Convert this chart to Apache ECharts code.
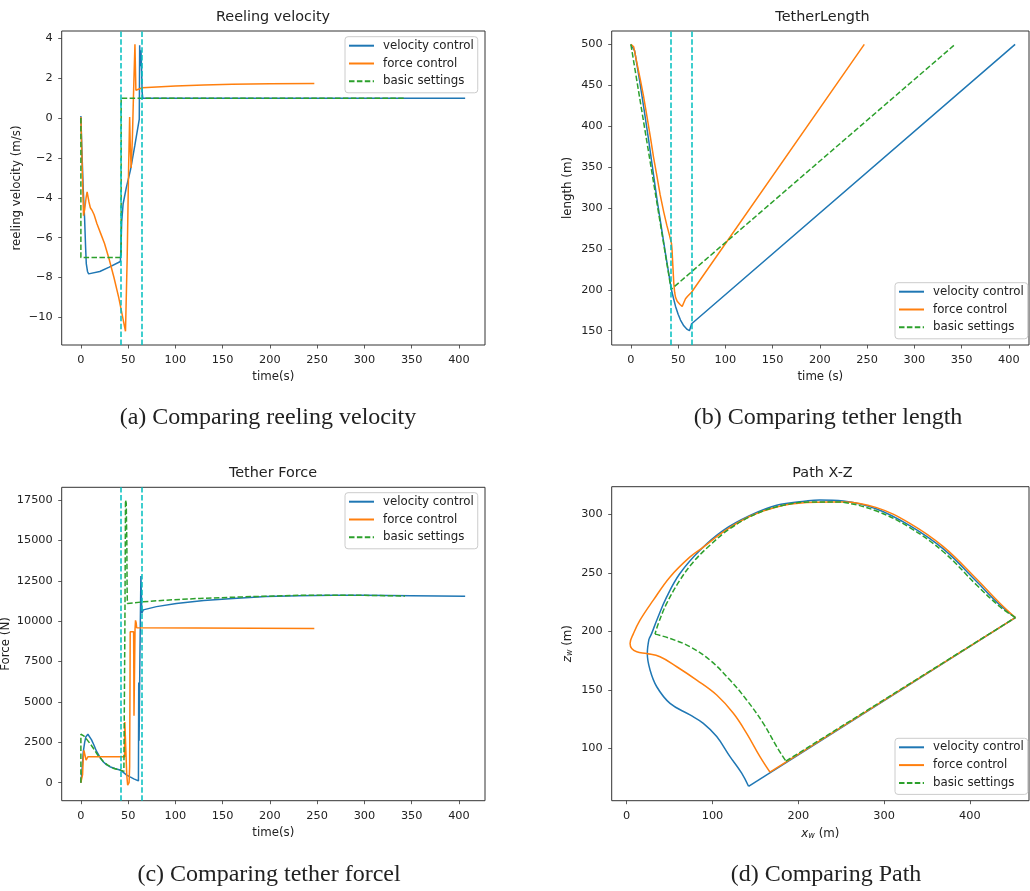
<!DOCTYPE html>
<html>
<head>
<meta charset="utf-8">
<script src="https://cdn.jsdelivr.net/npm/echarts@6/dist/echarts.min.js"></script>
<style>
  html, body { margin: 0; padding: 0; background: #fff; }
  #chart { width: 1030px; height: 891px; }
</style>
</head>
<body>
<div id="chart"></div>
<script>
const seriesNames = ['velocity control', 'force control', 'basic settings']
const switchTimes = [41.8, 64.4]

const timeTicks = [0, 50, 100, 150, 200, 250, 300, 350, 400]
const reelVelTicks = [-10, -8, -6, -4, -2, 0, 2, 4]
const lengthTicks = [150, 200, 250, 300, 350, 400, 450, 500]
const forceTicks = [0, 2500, 5000, 7500, 10000, 12500, 15000, 17500]
const pathXTicks = [0, 100, 200, 300, 400]
const pathZTicks = [100, 150, 200, 250, 300]

// (a) reeling velocity [t, v]
const reelVelocityCtrl = [
  [0, 0.1], [1, -1.5], [2.5, -3.6], [3.9, -5.0], [5, -6.5], [5.7, -7.3], [7, -7.7], [8.2, -7.82], [9.9, -7.88],
  [20, -7.7], [30, -7.48], [41.8, -7.2], [42.4, -6.5], [43.2, -5.2], [44.7, -4.3], [48, -3.5], [52.5, -2.6],
  [57, -1.4], [61.8, -0.05], [62.2, 3.65], [63, 2.6], [63.6, 3.4], [64.2, 2.5], [64.8, 1.3], [65.5, 1.0], [406.6, 1.0]
]
const reelForceCtrl = [
  [0, 0.05], [1, -1.8], [2, -3.6], [2.8, -4.9], [4, -4.6], [5.5, -4], [6.6, -3.7], [7.5, -3.75], [8.5, -4.2],
  [10, -4.5], [12, -4.65], [14, -4.85], [17, -5.3], [21, -5.8], [25, -6.3], [30, -7.1], [35, -8.0], [40, -9.0],
  [43, -9.7], [45.5, -10.3], [47.2, -10.7], [47.8, -10.6], [49, -7], [50.5, -2.5], [51.6, 0.05], [52.3, -1.5],
  [53.2, -2.5], [54.5, -1.0], [55.8, 1.4], [57.2, 3.7], [57.6, 3.6], [58.2, 1.4], [58.8, 1.42], [60, 1.5],
  [65, 1.52], [80, 1.56], [100, 1.61], [130, 1.66], [160, 1.7], [200, 1.72], [247, 1.74]
]
const reelBasic = [[0, 0], [0, -7], [42.6, -7], [42.6, 1.0], [343, 1.0]]

// (b) tether length [t, L]
const lengthVelocityCtrl = [
  [0, 500], [2, 499], [4, 492], [6, 478], [9.2, 456], [14, 420], [18.8, 383], [27.7, 310], [36.5, 245],
  [42.9, 200], [45, 190], [47.2, 180], [50, 170], [52.5, 163], [56, 156], [59.6, 151.5], [62, 150],
  [63, 152], [64.3, 158.5], [406.6, 500]
]
const lengthForceCtrl = [
  [0, 500], [1.8, 500], [3, 497], [6.4, 477], [10, 457], [13.5, 436], [17, 412], [20.6, 387], [24, 362],
  [27.7, 338], [31, 316], [34.8, 295], [38, 279], [40.5, 268], [42.9, 257], [43.5, 250], [44.3, 232],
  [45.4, 208], [46.3, 197], [47.2, 191], [49, 186], [50.7, 184], [52, 182], [53, 180.5], [54.3, 179.5],
  [55.5, 183], [57.8, 189], [60, 192], [62, 194], [64.2, 197], [247, 500]
]
const lengthBasic = [[0, 500], [42.6, 200.5], [343, 500]]

// (c) tether force [t, F]
const forceVelocityCtrl = [
  [0, 0], [1, 600], [2.5, 1900], [4, 2500], [5.3, 2850], [7.4, 3000], [9, 2900], [11.3, 2650], [14, 2300],
  [16.5, 1950], [20, 1600], [23.6, 1300], [27, 1120], [30.6, 990], [36, 880], [41.2, 790], [45, 640],
  [48.2, 480], [52, 360], [56, 240], [60.9, 110], [61.2, 6200], [61.6, 2600], [62.5, 8000], [63.5, 12800],
  [64.5, 10500], [66, 10700], [80, 10900], [101, 11100], [130, 11280], [161, 11410], [196, 11520],
  [230, 11580], [267, 11610], [300, 11600], [350, 11580], [406.6, 11540]
]
const forceForceCtrl = [
  [0, 0], [1, 300], [1.8, 500], [2.5, 1500], [3.2, 2000], [3.8, 1900], [4.6, 1650], [5.5, 1400], [6.5, 1450],
  [7.4, 1600], [9, 1580], [20, 1600], [42.3, 1600], [46.3, 1600], [46.5, 3750], [47.2, 3750], [47.6, 2000],
  [48.5, 500], [49.5, -150], [50.3, -250], [51, 0], [51.6, 1000], [52.2, 9350], [55.8, 9350], [56.2, 4150],
  [56.6, 4150], [57.3, 9500], [57.8, 10050], [58.5, 9900], [59, 9600], [61, 9550], [247, 9550]
]
const forceBasic = [
  [0, 0], [0, 3000], [3, 2900], [6, 2700], [10, 2400], [13, 2150], [18, 1700], [23.6, 1320], [28, 1100],
  [34.2, 900], [38, 830], [42.3, 780], [45.5, 700], [46.2, 650], [46.6, 10000], [47.2, 17500], [48, 17300],
  [48.3, 16000], [48.6, 15000], [48.9, 12000], [49.2, 11100], [55, 11120], [66, 11200], [90, 11300],
  [126, 11410], [180, 11520], [232, 11600], [290, 11610], [343, 11560]
]

// (d) path [x_w, z_w], split at sharp corners; each path closes back to its first point
const pathVelocityArc = [
  [453, 211.7], [435, 222.5], [407.8, 242.5], [369, 270.4], [330, 290.3], [291.3, 304.6], [252.4, 311.4],
  [225, 312.3], [209.7, 311.4], [174.8, 307.7], [143.7, 299], [112.6, 286.3], [85.4, 269.3], [62, 249.4],
  [46.6, 229.4], [35, 209.5], [29, 198], [26, 193.5]
]
const pathVelocityDive = [
  [26, 193.5], [24, 181], [27.2, 166.9], [35, 152.6], [50.5, 138.4], [73.8, 128.5], [89.3, 121.3],
  [104.9, 110], [120.4, 92.9], [134, 78.7], [142, 67.5]
]
const pathForceArc = [
  [453, 211.7], [435, 224], [407.8, 244.7], [369, 272.4], [330, 292.3], [291.3, 305.7], [252.4, 310.5],
  [236.9, 310.5], [209.7, 310], [174.8, 306.3], [143.7, 298.3], [112.6, 285], [89.3, 272], [73.8, 263.6],
  [50.5, 246.5], [31, 226.6], [15.5, 209.5], [7.8, 198], [3.9, 189.6], [5.8, 185.3], [11.7, 182.5],
  [23.3, 181], [38.8, 178.2], [58.3, 169.7], [81.6, 158.3], [104.9, 145.5], [124.3, 129.9], [139.8, 112.8],
  [155.3, 92.9], [167, 79.6]
]
const pathBasicArc = [
  [453, 211.7], [435, 221], [407.8, 239.6], [369, 268], [330, 288.6], [291.3, 302.8], [252.4, 310.3],
  [248.5, 310.5], [213.6, 310.5], [182.5, 307.7], [151.5, 300.6], [120.4, 287.8], [97, 273.5], [77.7, 259.3],
  [62, 243.7], [46.6, 223.8], [36.9, 206.7], [33, 197.6]
]
const pathBasicDive = [
  [33, 197.6], [50.5, 193.9], [73.8, 186.8], [97, 175.4], [120.4, 158.3], [139.8, 141.3], [159.2, 121.3],
  [174.8, 101.4], [185.5, 89]
]

const colors = ['#1f77b4', '#ff7f0e', '#2ca02c']
const cyan = '#00bfbf'
const dash = [5.5, 2.4]
const font = 'DejaVu Sans'
const textColor = '#222'

function fmt(v) {
  return v < 0 ? '\u2212' + Math.abs(v) : String(v)
}

function makeAxis(gridIndex, min, max, ticks, name, nameGap, isY, rich) {
  return {
    type: 'value',
    gridIndex: gridIndex,
    min: min,
    max: max,
    name: name,
    nameLocation: 'middle',
    nameGap: nameGap,
    nameTextStyle: { fontFamily: font, fontSize: 11.8, color: textColor, rich: rich },
    axisLine: { show: false, onZero: false },
    axisTick: { show: true, length: 3.5, lineStyle: { color: '#333', width: 0.8 }, customValues: ticks },
    axisLabel: { fontFamily: font, fontSize: 11.3, color: textColor, margin: isY ? 9 : 9.5, formatter: fmt, customValues: ticks },
    splitLine: { show: false }
  }
}

const subRich = {
  i: { fontFamily: font, fontSize: 11.8, fontStyle: 'italic', color: textColor },
  s: { fontFamily: font, fontSize: 8, fontStyle: 'italic', color: textColor, verticalAlign: 'bottom', lineHeight: 7 },
  n: { fontFamily: font, fontSize: 11.8, color: textColor }
}

function lineSeries(idx, k, data, smooth) {
  return {
    name: seriesNames[k],
    type: 'line',
    xAxisIndex: idx,
    yAxisIndex: idx,
    data: data,
    symbol: 'none',
    smooth: smooth || false,
    silent: true,
    lineStyle: { color: colors[k], width: 1.5, type: k === 2 ? dash : 'solid' },
    itemStyle: { color: colors[k] },
    z: 2 + k
  }
}

function makeSeries(idx, datasets) {
  return datasets.map((d, k) => {
    const s = lineSeries(idx, k, d)
    if (k === 2) {
      s.markLine = {
        silent: true,
        symbol: ['none', 'none'],
        label: { show: false },
        lineStyle: { color: cyan, width: 1.5, type: dash },
        data: switchTimes.map(t => ({ xAxis: t }))
      }
    }
    return s
  })
}

// curved parts are smoothed, the straight return leg from the last point to the first is not
function makePathSeries(idx, pathsByCurve) {
  const out = []
  pathsByCurve.forEach((parts, k) => {
    parts.forEach(p => out.push(lineSeries(idx, k, p, 0.4)))
    const last = parts[parts.length - 1]
    out.push(lineSeries(idx, k, [last[last.length - 1], parts[0][0]]))
  })
  return out
}

function makeLegend(left, top) {
  return {
    left: left,
    top: top,
    orient: 'vertical',
    data: seriesNames,
    selectedMode: false,
    itemWidth: 25,
    itemHeight: 12,
    itemGap: 5.8,
    padding: [3, 4, 5.5, 3],
    backgroundColor: 'rgba(255,255,255,0.8)',
    borderColor: '#cccccc',
    borderWidth: 1,
    borderRadius: 3,
    itemStyle: { opacity: 0 },
    textStyle: { fontFamily: font, fontSize: 11.8, color: textColor, padding: [0, 0, 0, 4] }
  }
}

function label(text, x, y, size, family) {
  return {
    type: 'text',
    x: x,
    y: y,
    silent: true,
    style: {
      text: text,
      fill: textColor,
      font: size + 'px "' + family + '"',
      textAlign: 'center',
      textVerticalAlign: 'middle'
    }
  }
}

const grids = [
  { left: 61.7, top: 31, width: 423.3, height: 314 },
  { left: 611.7, top: 31, width: 417.3, height: 314 },
  { left: 61.7, top: 487.3, width: 423.3, height: 313.4 },
  { left: 611.7, top: 486.7, width: 417.3, height: 314 }
].map(g => Object.assign(g, { show: true, borderColor: '#333', borderWidth: 1, backgroundColor: 'transparent', containLabel: false, outerBoundsMode: 'none' }))

const option = {
  animation: false,
  backgroundColor: '#fff',
  grid: grids,
  xAxis: [
    makeAxis(0, -20.3, 427.6, timeTicks, 'time(s)', 26, false),
    makeAxis(1, -20.3, 421.3, timeTicks, 'time (s)', 26, false),
    makeAxis(2, -20.3, 427.6, timeTicks, 'time(s)', 26.5, false),
    makeAxis(3, -17.5, 468.9, pathXTicks, '{i|x}{s|w}{n| (m)}', 27, false, subRich)
  ],
  yAxis: [
    makeAxis(0, -11.39, 4.37, reelVelTicks, 'reeling velocity (m/s)', 39, true),
    makeAxis(1, 132.5, 516.4, lengthTicks, 'length (m)', 38, true),
    makeAxis(2, -1114, 18287, forceTicks, 'Force (N)', 49.5, true),
    makeAxis(3, 55.2, 323.6, pathZTicks, '{i|z}{s|w}{n| (m)}', 38, true, subRich)
  ],
  legend: [
    makeLegend(345, 36.7),
    makeLegend(895, 282.7),
    makeLegend(345, 492.7),
    makeLegend(895, 738.3)
  ],
  graphic: [
    label('Reeling velocity', 273, 17.3, 14.4, font),
    label('TetherLength', 822.5, 17.3, 14.4, font),
    label('Tether Force', 273, 473.5, 14.4, font),
    label('Path X-Z', 822.5, 473.5, 14.4, font),
    label('(a) Comparing reeling velocity', 268, 418, 24, 'Liberation Serif'),
    label('(b) Comparing tether length', 828, 418, 24, 'Liberation Serif'),
    label('(c) Comparing tether forcel', 269, 875, 24, 'Liberation Serif'),
    label('(d) Comparing Path', 826, 875, 24, 'Liberation Serif')
  ],
  series: [].concat(
    makeSeries(0, [reelVelocityCtrl, reelForceCtrl, reelBasic]),
    makeSeries(1, [lengthVelocityCtrl, lengthForceCtrl, lengthBasic]),
    makeSeries(2, [forceVelocityCtrl, forceForceCtrl, forceBasic]),
    makePathSeries(3, [[pathVelocityArc, pathVelocityDive], [pathForceArc], [pathBasicArc, pathBasicDive]])
  )
}

const chart = echarts.init(document.getElementById('chart'), null, { renderer: 'canvas' })
chart.setOption(option)
window.addEventListener('resize', () => chart.resize())
</script>
</body>
</html>
